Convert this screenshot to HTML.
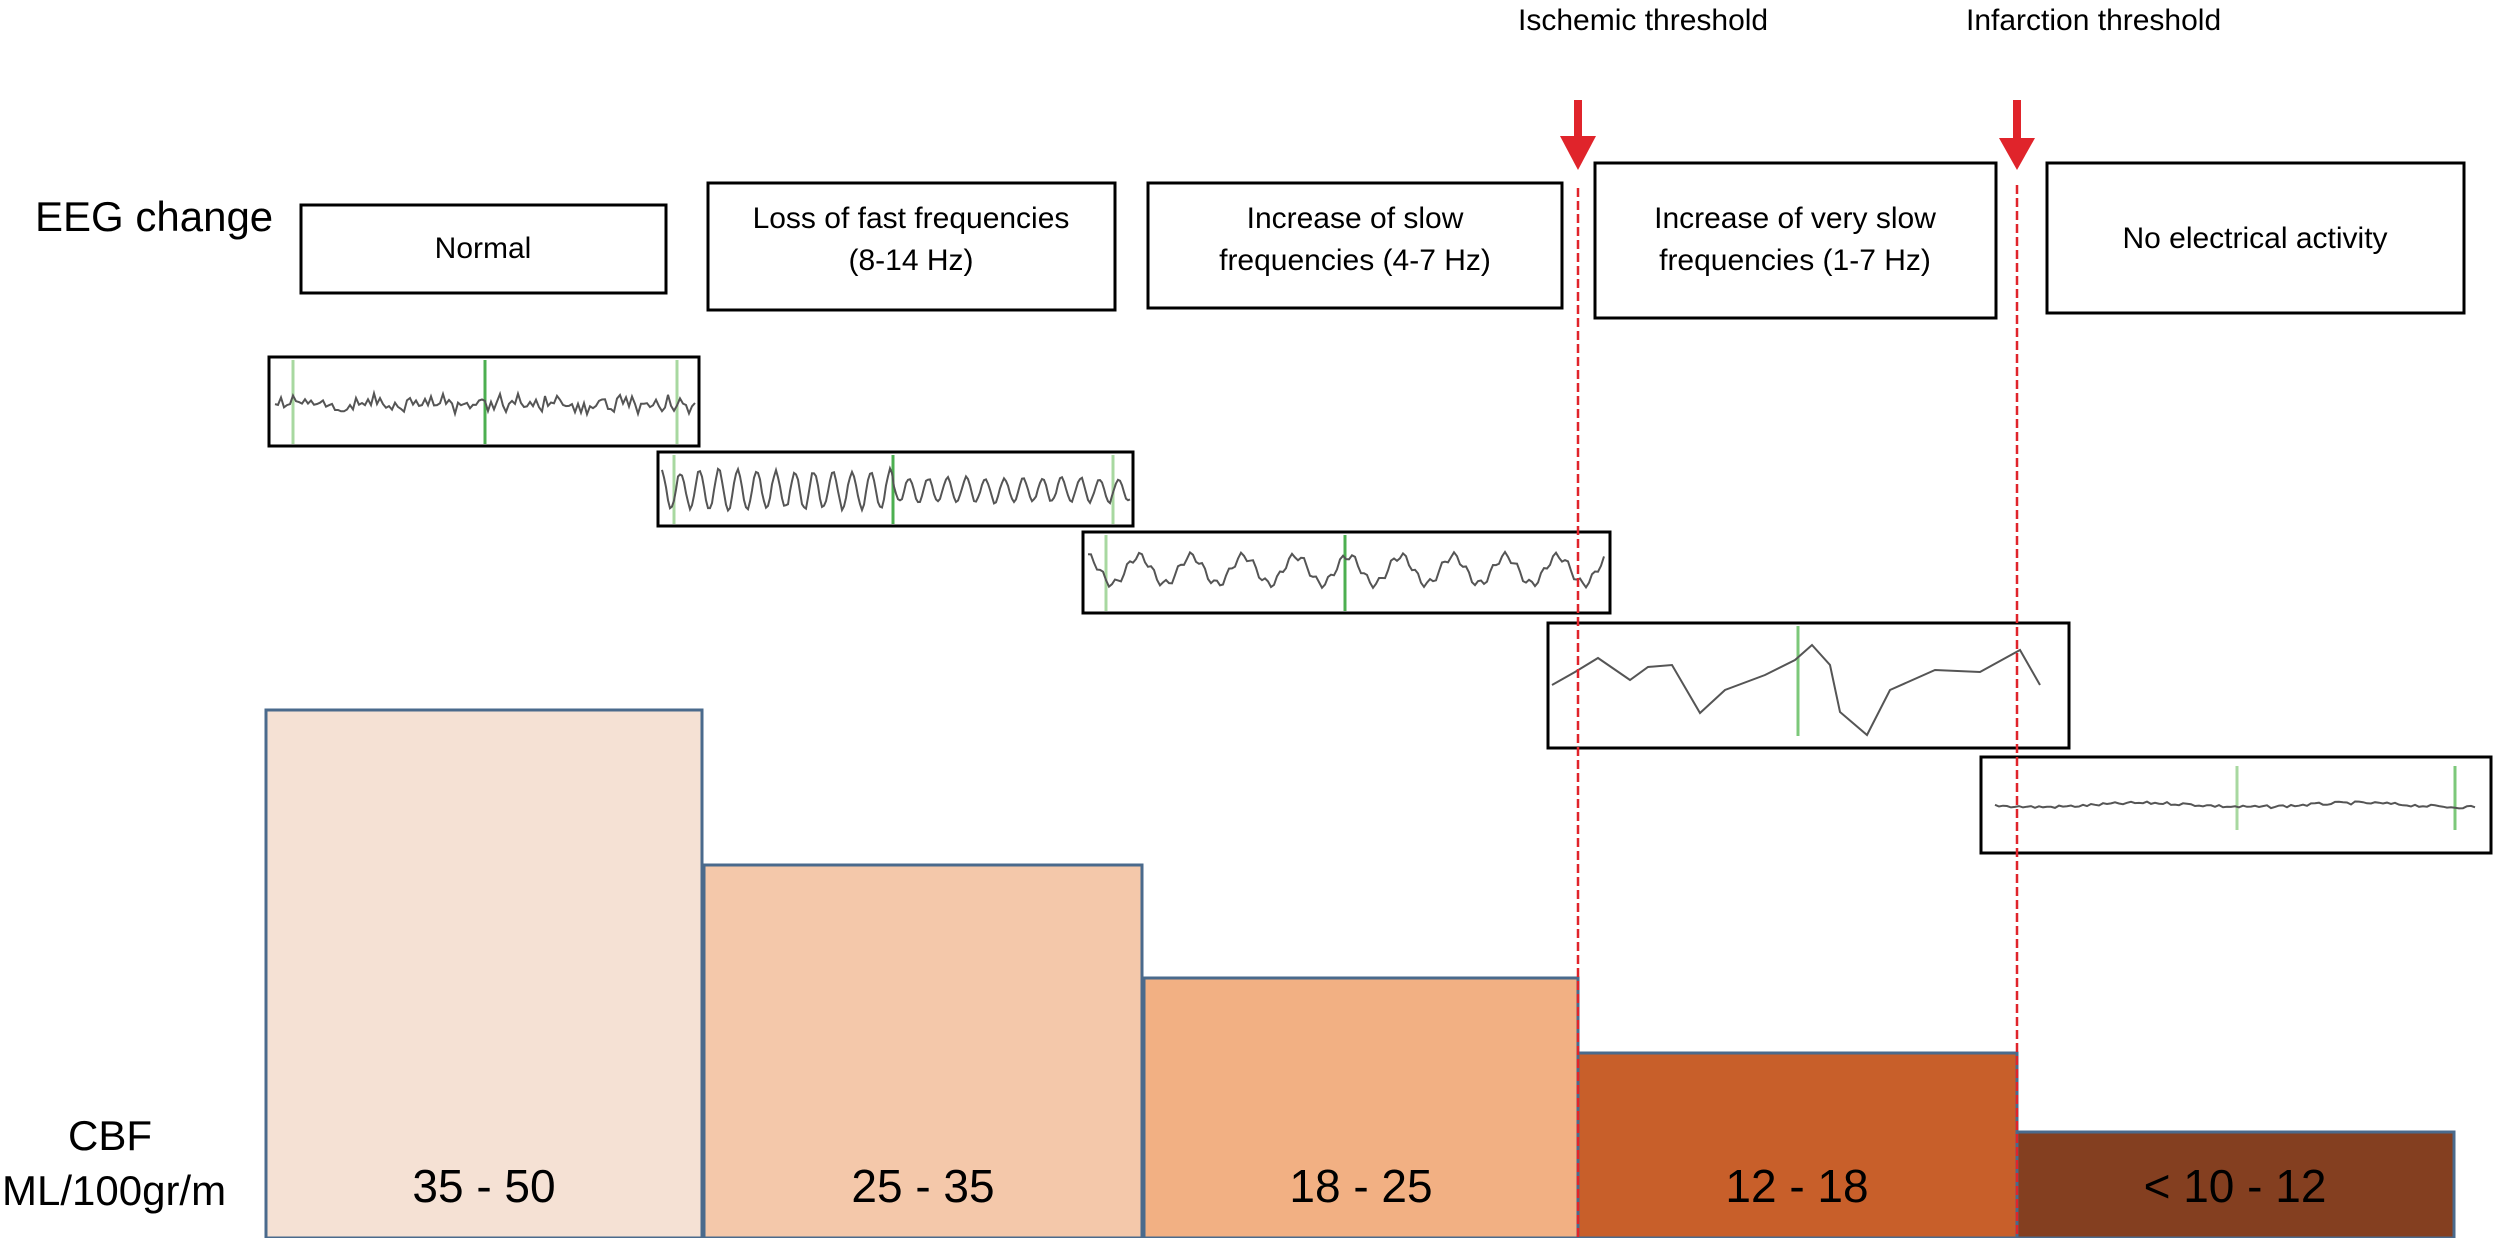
<!DOCTYPE html>
<html><head><meta charset="utf-8"><style>
html,body{margin:0;padding:0;background:#fff;}
svg{display:block;font-family:"Liberation Sans",sans-serif;}
</style></head><body>
<svg id="s" width="2497" height="1238" viewBox="0 0 2497 1238" xmlns="http://www.w3.org/2000/svg">
<rect width="2497" height="1238" fill="#fff"/>
<!-- bars -->
<rect x="266" y="710" width="436" height="528" fill="#f5e1d4" stroke="#4a6a8c" stroke-width="3"/>
<rect x="704" y="865" width="438" height="373" fill="#f4c8aa" stroke="#4a6a8c" stroke-width="3"/>
<rect x="1144" y="978" width="434" height="260" fill="#f2b083" stroke="#4a6a8c" stroke-width="3"/>
<rect x="1578" y="1053" width="439" height="185" fill="#c85f2a" stroke="#4a6a8c" stroke-width="3"/>
<rect x="2017" y="1132" width="437" height="106" fill="#843f20" stroke="#4a6a8c" stroke-width="3"/>
<g font-size="46" text-anchor="middle" fill="#000">
<text x="484" y="1202">35 - 50</text>
<text x="923" y="1202">25 - 35</text>
<text x="1361" y="1202">18 - 25</text>
<text x="1797" y="1202">12 - 18</text>
<text x="2235" y="1202">&lt; 10 - 12</text>
</g>
<g fill="#000">
<text x="68" y="1150" font-size="42">CBF</text>
<text x="2" y="1205" font-size="42">ML/100gr/m</text>
<text x="35" y="231" font-size="42">EEG change</text>
</g>
<!-- top texts -->
<g font-size="30" fill="#000">
<text x="1518" y="30">Ischemic threshold</text>
<text x="1966" y="30">Infarction threshold</text>
</g>
<!-- label boxes -->
<g fill="#fff" stroke="#000" stroke-width="3">
<rect x="301" y="205" width="365" height="88"/>
<rect x="708" y="183" width="407" height="127"/>
<rect x="1148" y="183" width="414" height="125"/>
<rect x="1595" y="163" width="401" height="155"/>
<rect x="2047" y="163" width="417" height="150"/>
</g>
<g font-size="30" fill="#000" text-anchor="middle">
<text x="483" y="258">Normal</text>
<text x="911" y="228">Loss of fast frequencies</text>
<text x="911" y="270">(8-14 Hz)</text>
<text x="1355" y="228">Increase of slow</text>
<text x="1355" y="270">frequencies (4-7 Hz)</text>
<text x="1795" y="228">Increase of very slow</text>
<text x="1795" y="270">frequencies (1-7 Hz)</text>
<text x="2255" y="248">No electrical activity</text>
</g>
<!-- EEG boxes -->
<g fill="#fff" stroke="#000" stroke-width="3">
<rect x="269" y="357" width="430" height="89"/>
<rect x="658" y="452" width="475" height="74"/>
<rect x="1083" y="532" width="527" height="81"/>
<rect x="1548" y="623" width="521" height="125"/>
<rect x="1981" y="757" width="510" height="96"/>
</g>
<g stroke-width="3">
<line x1="293" y1="360" x2="293" y2="444" stroke="#a8d8a0"/>
<line x1="485" y1="360" x2="485" y2="444" stroke="#4caf50"/>
<line x1="677" y1="360" x2="677" y2="444" stroke="#a8d8a0"/>
<line x1="674" y1="455" x2="674" y2="524" stroke="#a8d8a0"/>
<line x1="893" y1="455" x2="893" y2="524" stroke="#4caf50"/>
<line x1="1113" y1="455" x2="1113" y2="524" stroke="#a8d8a0"/>
<line x1="1106" y1="535" x2="1106" y2="611" stroke="#a8d8a0"/>
<line x1="1345" y1="535" x2="1345" y2="611" stroke="#4caf50"/>
<line x1="1798" y1="626" x2="1798" y2="736" stroke="#7cc87a"/>
<line x1="2237" y1="766" x2="2237" y2="830" stroke="#a8d8a0"/>
<line x1="2455" y1="766" x2="2455" y2="830" stroke="#7cc87a"/>
</g>
<g id="waves" fill="none" stroke="#555" stroke-width="2"></g>
<!-- thresholds -->
<g stroke="#e0242b" stroke-width="2.5" stroke-dasharray="9,4">
<line x1="1578" y1="188" x2="1578" y2="1238"/>
<line x1="2017" y1="185" x2="2017" y2="1238"/>
</g>
<g fill="#e0242b">
<rect x="1574" y="100" width="8" height="38"/>
<polygon points="1560,136 1596,136 1578,170"/>
<rect x="2013" y="100" width="8" height="40"/>
<polygon points="1999,138 2035,138 2017,170"/>
</g>
</svg>
<script>
(function(){
var g=document.getElementById('waves');
function add(pts){var p=document.createElementNS('http://www.w3.org/2000/svg','polyline');p.setAttribute('points',pts.map(function(a){return a[0].toFixed(1)+','+a[1].toFixed(1)}).join(' '));g.appendChild(p);}
var seed=7;function r(){seed=(seed*9301+49297)%233280;return seed/233280;}
var a=[];for(var x=275;x<=695;x+=3){a.push([x,404+(r()-0.5)*22*Math.sin(x*0.5)]);}add(a);
a=[];for(var x=662;x<=1130;x+=2){var amp=(x<893?22:14)*(0.7+0.3*r());a.push([x,490+amp*Math.sin(x*0.33)]);}add(a);
a=[];for(var x=1088;x<=1605;x+=3){a.push([x,570+14*Math.sin(x*0.12)+4*Math.sin(x*0.5)]);}add(a);
var k=[[1552,685],[1575,672],[1598,658],[1630,680],[1648,667],[1672,665],[1700,713],[1725,690],[1765,675],[1795,660],[1812,645],[1830,665],[1840,712],[1867,735],[1890,690],[1935,670],[1980,672],[2020,650],[2040,685]];add(k);
a=[];for(var x=1995;x<=2478;x+=4){a.push([x,805-2*Math.sin(x*0.03)+(r()-0.5)*3]);}add(a);
})();
</script>
</body></html>
